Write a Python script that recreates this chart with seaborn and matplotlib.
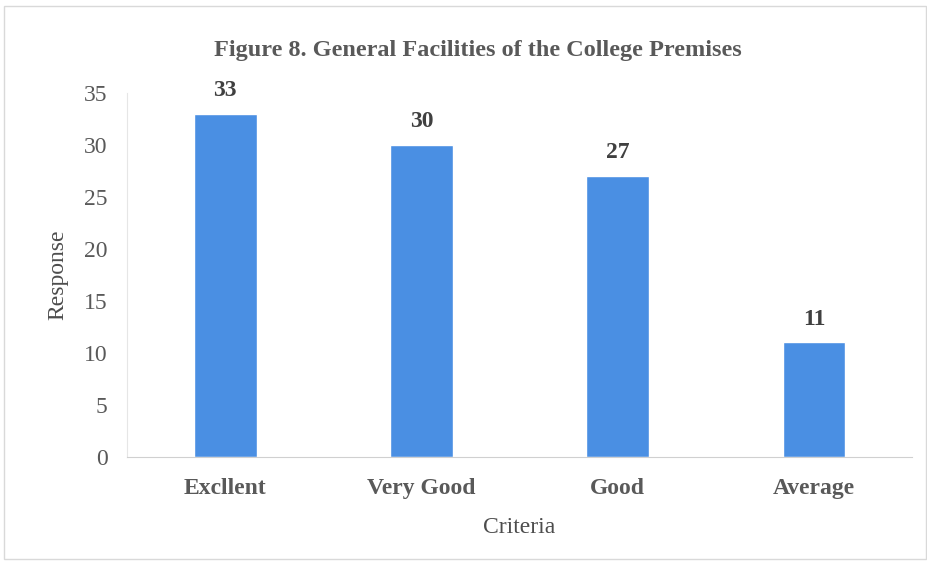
import pandas as pd
import matplotlib
matplotlib.use("Agg")
import matplotlib.pyplot as plt
import seaborn as sns

criteria = ["Excllent", "Very Good", "Good", "Average"]
responses = [33, 30, 27, 11]

df = pd.DataFrame({"Criteria": criteria, "Response": responses})

sns.set_style("white")
plt.rcParams["font.family"] = ["Liberation Serif", "DejaVu Serif"]
txt = "#595959"

fig = plt.figure(figsize=(9.27, 5.62), dpi=100)
ax = fig.add_axes([0.137, 0.187, 0.847, 0.648])
sns.barplot(data=df, x="Criteria", y="Response", color="#4a8fe3",
            saturation=1, width=0.32, ax=ax)

for i, v in enumerate(responses):
    ax.text(i, v + 1.2, str(v), ha="center", va="bottom", fontsize=17,
            fontweight="bold", color="#404040", clip_on=False)

ax.set_ylim(0, 35)
ax.set_yticks(range(0, 36, 5))
ax.tick_params(axis="y", labelsize=17, labelcolor=txt, length=0, pad=14)
ax.tick_params(axis="x", labelsize=17, labelcolor=txt, length=0, pad=15)
for lbl in ax.get_xticklabels():
    lbl.set_fontweight("bold")

ax.set_xlabel("Criteria", fontsize=17, color="#4d4d4d")
ax.set_ylabel("Response", fontsize=17, color="#4d4d4d")
ax.xaxis.set_label_coords(0.5, -0.165)
ax.yaxis.set_label_coords(-0.075, 0.5)
fig.text(0.515, 0.91, "Figure 8. General Facilities of the College Premises",
         ha="center", va="center", fontsize=17.5, fontweight="bold", color=txt)

for s in ["top", "right"]:
    ax.spines[s].set_visible(False)
ax.spines["left"].set_color("#e6e6e6")
ax.spines["bottom"].set_color("#d0d0d0")

fig.patches.append(plt.Rectangle((0.004, 0.005), 0.995, 0.985, transform=fig.transFigure,
                                 fill=False, edgecolor="#d9d9d9", linewidth=1))

fig.savefig("out.png", dpi=100)
